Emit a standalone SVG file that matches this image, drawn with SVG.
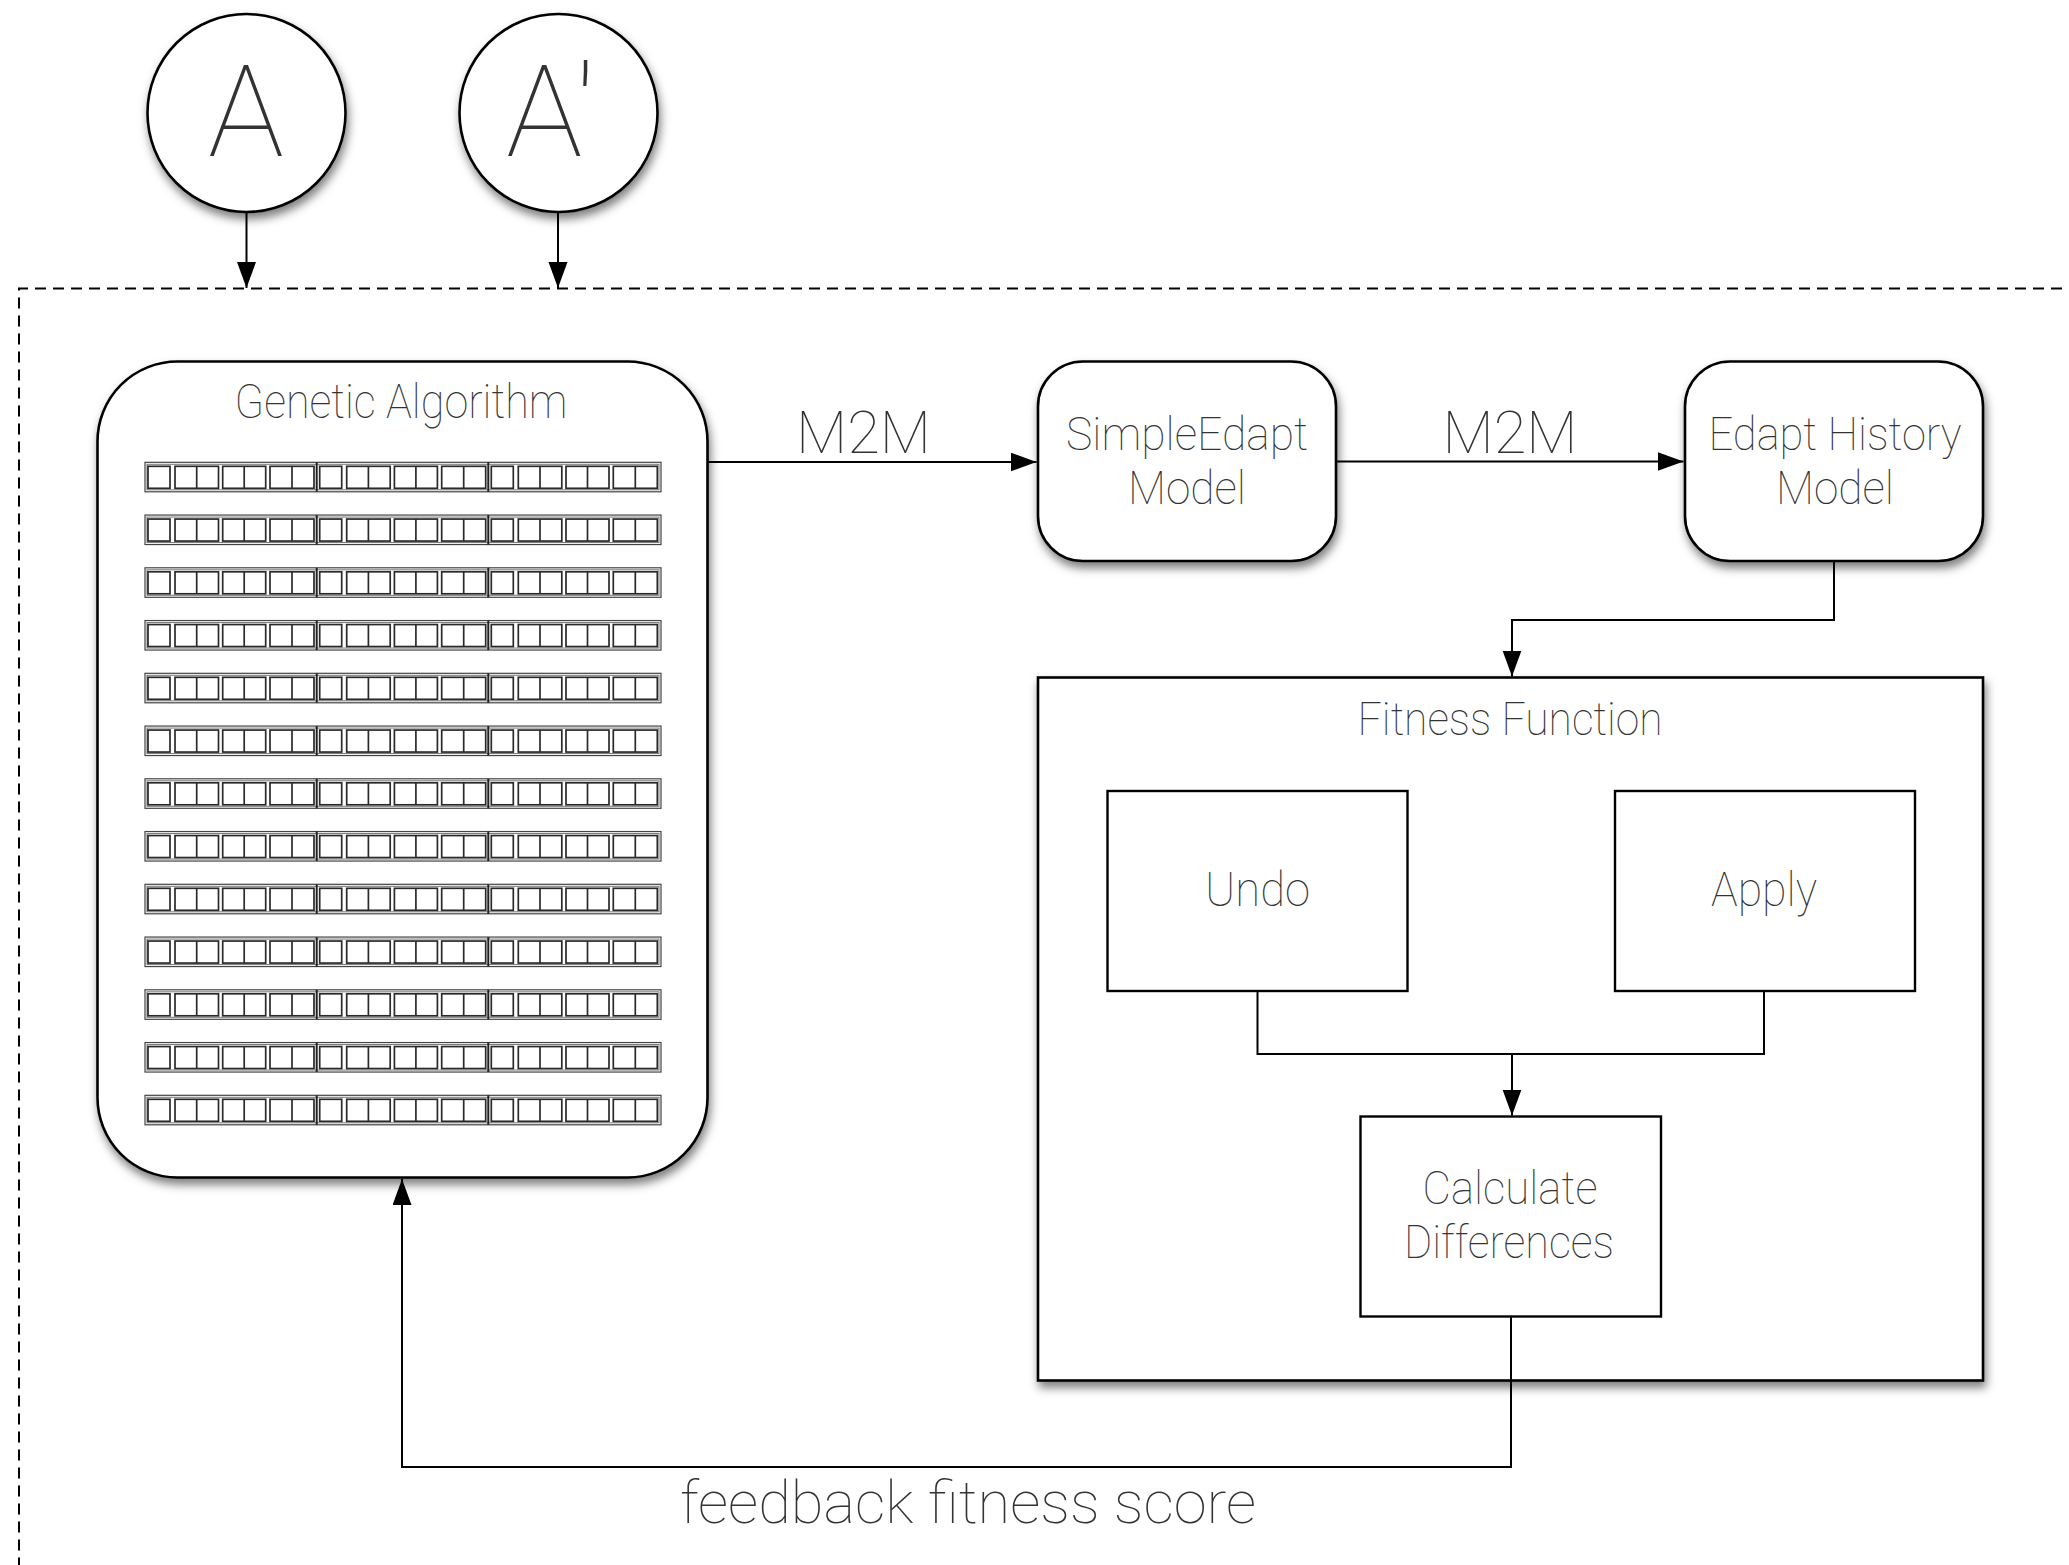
<svg xmlns="http://www.w3.org/2000/svg" xmlns:xlink="http://www.w3.org/1999/xlink" width="2069" height="1565" viewBox="0 0 2069 1565">
<style>
.box{fill:#fff;stroke:#000;stroke-width:2.6}
.ibox{fill:#fff;stroke:#000;stroke-width:2.4}
.con{fill:none;stroke:#000;stroke-width:2}
.lbl{font-family:Roboto,"Liberation Sans",sans-serif;font-weight:100;fill:#333;text-anchor:middle}
.ro{fill:none;stroke:#444;stroke-width:1.2}
.ri{fill:none;stroke:#777;stroke-width:1}
.rc{fill:none;stroke:#2a2a2a;stroke-width:1.7}
.dash{fill:none;stroke:#000;stroke-width:2;stroke-dasharray:11 7}
</style>
<defs>
<filter id="sh" x="-20%" y="-20%" width="140%" height="150%">
<feDropShadow dx="2" dy="6" stdDeviation="5" flood-color="#000" flood-opacity="0.5"/>
</filter>
<marker id="ah" markerUnits="userSpaceOnUse" markerWidth="27" markerHeight="20" refX="26" refY="9.5" orient="auto">
<path d="M0,0 L26,9.5 L0,19 z" fill="#000"/>
</marker>
<g id="seg">
<rect class="rc" x="3" y="4" width="22" height="22"/>
<rect class="rc" x="30" y="4" width="43.5" height="22"/>
<line class="rc" x1="51.7" y1="4" x2="51.7" y2="26"/>
<rect class="rc" x="77.7" y="4" width="43" height="22"/>
<line class="rc" x1="99.2" y1="4" x2="99.2" y2="26"/>
<rect class="rc" x="125" y="4" width="44" height="22"/>
<line class="rc" x1="147" y1="4" x2="147" y2="26"/>
</g>
<g id="chromo">
<rect class="ro" x="145" y="0" width="516" height="29.5"/>
<rect class="ri" x="147" y="2" width="512" height="25.5"/>
<use xlink:href="#seg" x="145"/>
<use xlink:href="#seg" x="316.7"/>
<use xlink:href="#seg" x="488.3"/>
<line stroke="#222" stroke-width="2" x1="316.7" y1="0" x2="316.7" y2="29.5"/>
<line stroke="#222" stroke-width="2" x1="488.3" y1="0" x2="488.3" y2="29.5"/>
</g>
</defs>
<rect width="2069" height="1565" fill="#fff"/>

<g id="boundary">
<path class="dash" d="M2080,288.5 H19 V1575"/>
</g>

<g id="nodeA">
<circle class="box" cx="246.5" cy="113" r="99" filter="url(#sh)"/>
<text class="lbl" x="246" y="156" font-size="128" textLength="76" lengthAdjust="spacingAndGlyphs">A</text>
</g>
<g id="nodeAprime">
<circle class="box" cx="558.5" cy="113" r="99" filter="url(#sh)"/>
<text class="lbl" x="551" y="156" font-size="128">A'</text>
</g>

<g id="geneticAlgorithm">
<rect class="box" x="97.5" y="361.5" width="610" height="816" rx="80" ry="80" filter="url(#sh)"/>
<text class="lbl" x="401" y="418" font-size="48" textLength="333" lengthAdjust="spacingAndGlyphs">Genetic Algorithm</text>
<use xlink:href="#chromo" y="462.3"/>
<use xlink:href="#chromo" y="515.05"/>
<use xlink:href="#chromo" y="567.8"/>
<use xlink:href="#chromo" y="620.55"/>
<use xlink:href="#chromo" y="673.3"/>
<use xlink:href="#chromo" y="726.05"/>
<use xlink:href="#chromo" y="778.8"/>
<use xlink:href="#chromo" y="831.55"/>
<use xlink:href="#chromo" y="884.3"/>
<use xlink:href="#chromo" y="937.05"/>
<use xlink:href="#chromo" y="989.8"/>
<use xlink:href="#chromo" y="1042.55"/>
<use xlink:href="#chromo" y="1095.3"/>
</g>

<g id="simpleEdapt">
<rect class="box" x="1038" y="361.5" width="298" height="199.5" rx="45" ry="45" filter="url(#sh)"/>
<text class="lbl" x="1187" y="450" font-size="47" textLength="242" lengthAdjust="spacingAndGlyphs">SimpleEdapt</text>
<text class="lbl" x="1187" y="504" font-size="47" textLength="118" lengthAdjust="spacingAndGlyphs">Model</text>
</g>

<g id="edaptHistory">
<rect class="box" x="1685" y="361.5" width="298" height="199.5" rx="45" ry="45" filter="url(#sh)"/>
<text class="lbl" x="1835" y="450" font-size="47" textLength="253" lengthAdjust="spacingAndGlyphs">Edapt History</text>
<text class="lbl" x="1835" y="504" font-size="47" textLength="118" lengthAdjust="spacingAndGlyphs">Model</text>
</g>

<g id="fitnessFunction">
<rect class="box" x="1038" y="677.5" width="945" height="703" filter="url(#sh)"/>
<text class="lbl" x="1510" y="735" font-size="47" textLength="305" lengthAdjust="spacingAndGlyphs">Fitness Function</text>
</g>

<g id="undo">
<rect class="ibox" x="1107.5" y="791" width="300" height="200"/>
<text class="lbl" x="1257.5" y="906" font-size="48" textLength="105" lengthAdjust="spacingAndGlyphs">Undo</text>
</g>

<g id="apply">
<rect class="ibox" x="1615" y="791" width="300" height="200"/>
<text class="lbl" x="1764" y="906" font-size="48" textLength="106" lengthAdjust="spacingAndGlyphs">Apply</text>
</g>

<g id="calculateDifferences">
<rect class="ibox" x="1360.5" y="1116.5" width="300.5" height="200"/>
<text class="lbl" x="1510" y="1204" font-size="47" textLength="175" lengthAdjust="spacingAndGlyphs">Calculate</text>
<text class="lbl" x="1509" y="1258" font-size="47" textLength="210" lengthAdjust="spacingAndGlyphs">Differences</text>
</g>

<g id="connectors">
<path class="con" d="M246.5,212 V288" marker-end="url(#ah)"/>
<path class="con" d="M558,212 V288" marker-end="url(#ah)"/>
<path class="con" d="M708,462 H1036.5" marker-end="url(#ah)"/>
<path class="con" d="M1337,461.5 H1683.5" marker-end="url(#ah)"/>
<path class="con" d="M1834,561 V620 H1512 V676.5" marker-end="url(#ah)"/>
<path class="con" d="M1257.5,991 V1054 H1764 V991"/>
<path class="con" d="M1512,1054 V1115.5" marker-end="url(#ah)"/>
<path class="con" d="M1511,1317 V1467 H402 V1179" marker-end="url(#ah)"/>
<text class="lbl" x="863.5" y="453" font-size="60" textLength="135" lengthAdjust="spacingAndGlyphs">M2M</text>
<text class="lbl" x="1510" y="453" font-size="60" textLength="135" lengthAdjust="spacingAndGlyphs">M2M</text>
<text class="lbl" x="968" y="1523" font-size="60" textLength="576" lengthAdjust="spacingAndGlyphs">feedback fitness score</text>
</g>
</svg>
